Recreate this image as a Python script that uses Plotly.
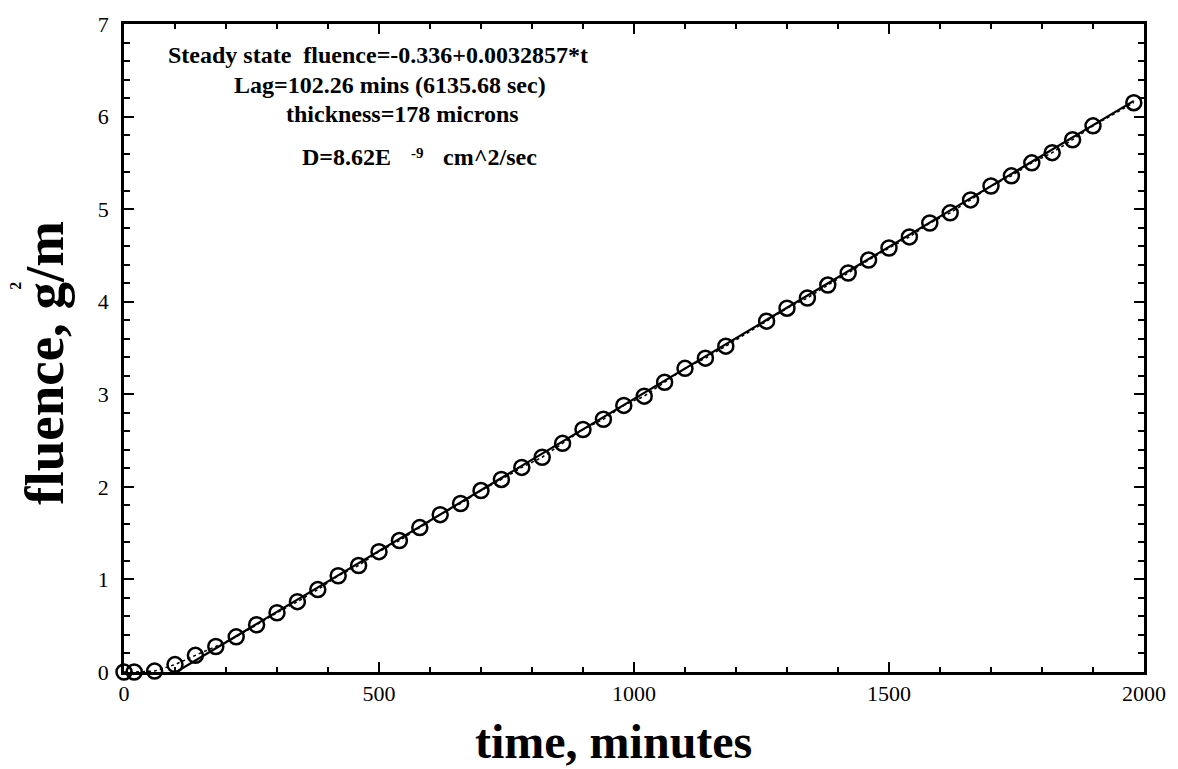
import plotly.graph_objects as go

# Permeation run: cumulative fluence vs elapsed time
time_min = [0, 20, 60, 100, 140, 180, 220, 260, 300, 340, 380, 420, 460, 500,
            540, 580, 620, 660, 700, 740, 780, 820, 860, 900, 940, 980, 1020,
            1060, 1100, 1140, 1180, 1260, 1300, 1340, 1380, 1420, 1460, 1500,
            1540, 1580, 1620, 1660, 1700, 1740, 1780, 1820, 1860, 1900, 1980]
fluence_gm2 = [0.0, 0.0, 0.01, 0.08, 0.18, 0.275, 0.38, 0.51, 0.64, 0.76, 0.89,
               1.04, 1.15, 1.30, 1.42, 1.56, 1.70, 1.82, 1.96, 2.08, 2.21, 2.32,
               2.47, 2.62, 2.73, 2.88, 2.98, 3.13, 3.28, 3.39, 3.52, 3.79, 3.93,
               4.04, 4.18, 4.31, 4.45, 4.58, 4.70, 4.85, 4.96, 5.10, 5.25, 5.36,
               5.50, 5.61, 5.75, 5.90, 6.15]

# Steady-state fit: fluence = intercept + slope * t
fit_intercept = -0.336
fit_slope = 0.0032857
lag_min = -fit_intercept / fit_slope
fit_t = [lag_min, time_min[-1]]
fit_f = [fit_intercept + fit_slope * t for t in fit_t]

x_ticks = [0, 500, 1000, 1500, 2000]
y_ticks = [0, 1, 2, 3, 4, 5, 6, 7]

SERIF = "Liberation Serif"
W, H = 1178, 769
L, R, T, B = 124, 33, 18, 97


def px_x(px):
    return (px - L) / (W - L - R)


def px_y(py):
    return (H - B - py) / (H - T - B)


fig = go.Figure()

fig.add_trace(go.Scatter(
    x=time_min, y=fluence_gm2, mode="lines",
    line=dict(color="black", width=1.5, dash="dot"),
    hoverinfo="skip",
))
fig.add_trace(go.Scatter(
    x=fit_t, y=fit_f, mode="lines",
    line=dict(color="black", width=2.2),
))
fig.add_trace(go.Scatter(
    x=time_min, y=fluence_gm2, mode="markers",
    marker=dict(symbol="circle-open", size=15, color="black",
                line=dict(width=2.5, color="black")),
    cliponaxis=False,
))

axis_common = dict(
    showgrid=False, zeroline=False,
    showline=True, linecolor="black", linewidth=2.8,
    mirror="allticks", ticks="inside", tickcolor="black", tickwidth=2,
    tickfont=dict(family=SERIF, size=22, color="black"),
)

fig.update_xaxes(
    range=[0, 2000], tickmode="array", tickvals=x_ticks,
    ticktext=[str(v) for v in x_ticks], ticklen=10,
    minor=dict(dtick=100, ticklen=5, tickwidth=2, tickcolor="black", ticks="inside"),
    ticklabelstandoff=0,
    **axis_common,
)
fig.update_yaxes(
    range=[0, 7], tickmode="array", tickvals=y_ticks,
    ticktext=[str(v) for v in y_ticks], ticklen=10,
    minor=dict(dtick=0.2, ticklen=6, tickwidth=2, tickcolor="black", ticks="inside"),
    ticklabelstandoff=8,
    **axis_common,
)

bold = dict(family=SERIF, color="black", weight="bold")
nb = "\u00a0"

annotations = [
    dict(text=f"Steady state{nb}{nb}fluence=-0.336+0.0032857*t",
         x=px_x(378), y=px_y(49), font=dict(size=24, **bold)),
    dict(text="Lag=102.26 mins (6135.68 sec)",
         x=px_x(390), y=px_y(80), font=dict(size=24, **bold)),
    dict(text="thickness=178 microns",
         x=px_x(403), y=px_y(109), font=dict(size=24, **bold)),
    dict(text="D=8.62E", x=px_x(300), y=px_y(152), xanchor="left",
         font=dict(size=24, **bold)),
    dict(text="-9", x=px_x(409), y=px_y(148), xanchor="left",
         font=dict(size=15, **bold)),
    dict(text="cm^2/sec", x=px_x(441), y=px_y(152), xanchor="left",
         font=dict(size=24, **bold)),
    # axis titles
    dict(text="time, minutes", x=px_x(614), y=px_y(742),
         font=dict(size=48, **bold)),
    dict(text="fluence, g/m", x=px_x(45), y=px_y(360), textangle=-90,
         font=dict(size=55, **bold)),
    dict(text="2", x=px_x(15), y=px_y(282), textangle=-90,
         font=dict(size=16, **bold)),
]
for a in annotations:
    a.setdefault("xanchor", "center")
    a.update(xref="paper", yref="paper", yanchor="middle", showarrow=False)

fig.update_layout(
    width=W, height=H,
    margin=dict(l=L, r=R, t=T, b=B),
    paper_bgcolor="white", plot_bgcolor="white",
    showlegend=False,
    annotations=annotations,
)

fig.write_html("out.html")
